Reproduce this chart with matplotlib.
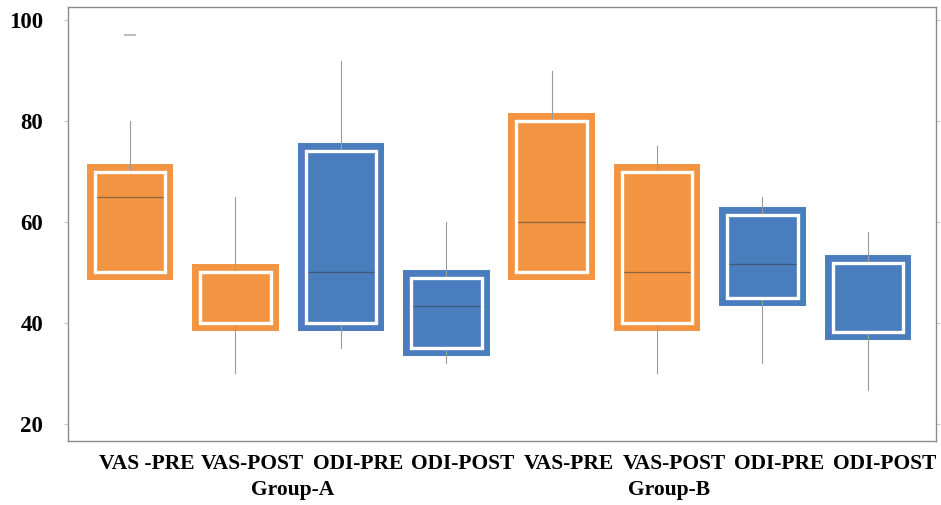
import numpy as np
import matplotlib
matplotlib.use("Agg")
import matplotlib.pyplot as plt
from matplotlib.patches import Rectangle

labels = ["VAS -PRE", "VAS-POST", "ODI-PRE", "ODI-POST", "VAS-PRE", "VAS-POST", "ODI-PRE", "ODI-POST"]
groups = ["Group-A", "Group-B"]
q1 = [50, 40, 40, 35, 50, 40, 45, 38.2]
med = [65, 40, 50, 43.4, 60, 50, 51.7, 38.2]
q3 = [70, 50, 74, 49, 80, 70, 61.4, 51.8]
whislo = [50, 30, 35, 32, 50, 30, 32, 26.7]
whishi = [80, 65, 92, 60, 90, 75, 65, 58.1]
outliers = [[97], [], [], [], [], [], [], []]
kind = ["VAS", "VAS", "ODI", "ODI", "VAS", "VAS", "ODI", "ODI"]

ORANGE = "#F39442"
BLUE = "#4A7DBE"
COL = {"VAS": ORANGE, "ODI": BLUE}

plt.rcParams["font.family"] = ["Liberation Serif", "DejaVu Serif"]
fig = plt.figure(figsize=(9.41, 5.05), dpi=100)
ax = fig.add_axes([0.0723, 0.1267, 0.9224, 0.8593])

w = 0.67
for i in range(len(labels)):
    c = COL[kind[i]]
    ax.add_patch(Rectangle((i - w/2, q1[i]), w, q3[i] - q1[i], fc=c, ec=c, lw=11.5,
                           joinstyle="miter", zorder=2))
    ax.plot([i, i], [q3[i], whishi[i]], color="#9a9a9a", lw=0.8, zorder=3)
    ax.plot([i, i], [whislo[i], q1[i]], color="#9a9a9a", lw=0.8, zorder=3)
    ax.plot([i - w/2, i + w/2], [med[i], med[i]], color="#3a3a3a", alpha=0.55, lw=0.9, zorder=3)
    ax.add_patch(Rectangle((i - w/2, q1[i]), w, q3[i] - q1[i], fill=False, ec="white", lw=2.4,
                           joinstyle="miter", zorder=4))
    for o in outliers[i]:
        ax.plot([i], [o], marker="_", ms=8, color="#b0b0b0", mew=1.2, zorder=3)

ax.set_xlim(-0.588, 7.647)
ax.set_ylim(16.6, 102.6)
ax.set_yticks([20, 40, 60, 80, 100])
# category labels sit a little right of the box centres, as in the original
ax.set_xticks(np.arange(len(labels)) + 0.16)
ax.set_xticklabels(labels, fontsize=15.5, fontweight="bold")
ax.tick_params(axis="x", length=0, pad=9)
ax.tick_params(axis="y", which="both", direction="out", length=3, color="#c8c8c8",
               labelsize=16.5, pad=15, right=True)
for t in ax.get_yticklabels():
    t.set_fontweight("bold")
for s in ax.spines.values():
    s.set_color("#8a8a8a"); s.set_linewidth(1.0)

tr = ax.get_xaxis_transform()
ax.text(1.54, -0.113, groups[0], transform=tr, ha="center", va="center", fontsize=15.5, fontweight="bold")
ax.text(5.11, -0.113, groups[1], transform=tr, ha="center", va="center", fontsize=15.5, fontweight="bold")

fig.savefig("out.png", dpi=100)
